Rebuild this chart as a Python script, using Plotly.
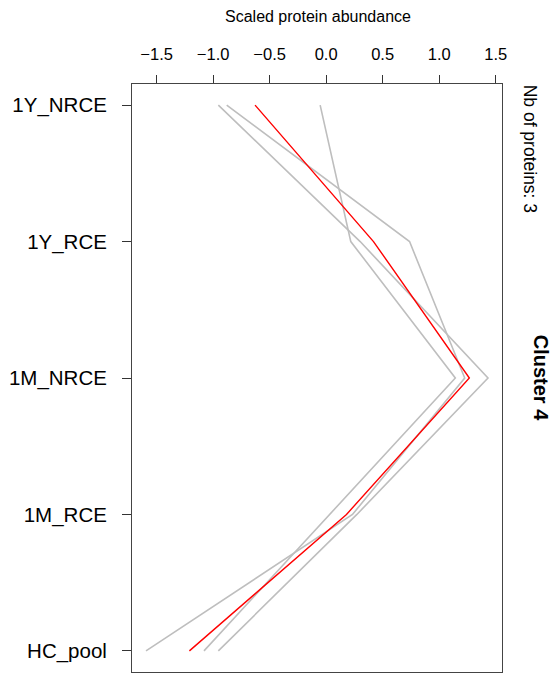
import plotly.graph_objects as go

# Data
conditions = ["1Y_NRCE", "1Y_RCE", "1M_NRCE", "1M_RCE", "HC_pool"]
protein_a = [-0.053, 0.218, 1.143, 0.035, -1.081]
protein_b = [-0.880, 0.738, 1.226, 0.233, -1.594]
protein_c = [-0.954, 0.301, 1.432, 0.272, -0.954]
cluster_mean = [-0.629, 0.419, 1.267, 0.180, -1.210]
x_ticks = [-1.5, -1.0, -0.5, 0.0, 0.5, 1.0, 1.5]
category_order = ["HC_pool", "1M_RCE", "1M_NRCE", "1Y_RCE", "1Y_NRCE"]

# body margin is removed with a small post-script so the figure fills the page
PAGE_W, PAGE_H = 552, 678
W, H = PAGE_W, PAGE_H
L, T = 132, 84
R = PAGE_W - 501.7
B = PAGE_H - 672

fig = go.Figure()
for vals in [protein_a, protein_b, protein_c]:
    fig.add_trace(go.Scatter(x=vals, y=conditions, mode="lines",
                             line=dict(color="#BEBEBE", width=1.6),
                             showlegend=False, hoverinfo="skip"))
fig.add_trace(go.Scatter(x=cluster_mean, y=conditions, mode="lines",
                         line=dict(color="#FF0000", width=1.4),
                         showlegend=False, hoverinfo="skip"))

font_family = "Liberation Sans, Arial, sans-serif"

fig.update_layout(
    width=W, height=H,
    margin=dict(l=L, r=R, t=T, b=B, pad=0),
    paper_bgcolor="white", plot_bgcolor="white",
    font=dict(family=font_family, color="black"),
    xaxis=dict(
        side="top", range=[-1.718, 1.556], tickvals=x_ticks,
        tickformat=".1f", ticks="outside", ticklen=8, tickwidth=1,
        tickcolor="#333", showgrid=False, zeroline=False,
        showline=True, linecolor="#444", linewidth=1, mirror=True,
        tickfont=dict(size=16.5, family=font_family, color="black"),
        ticklabelstandoff=8,
    ),
    yaxis=dict(
        type="category", categoryorder="array", categoryarray=category_order,
        range=[-0.155, 4.155], ticks="outside", ticklen=9, tickwidth=1,
        tickcolor="#333", showgrid=False, zeroline=False,
        showline=True, linecolor="#444", linewidth=1, mirror=True,
        tickfont=dict(size=20.5, family=font_family, color="black"),
        ticklabelstandoff=11,
    ),
)

pw = W - L - R
ph = H - T - B

def px_to_paper(xp, yp):
    return (xp - L) / pw, (H - B - yp) / ph

ax, ay = px_to_paper(318, 17)
fig.add_annotation(text="Scaled protein abundance", x=ax, y=ay, xref="paper", yref="paper",
                   xanchor="center", yanchor="middle", showarrow=False,
                   font=dict(size=16, family=font_family, color="black"))

nx, ny = px_to_paper(530, 149)
fig.add_annotation(text="Nb of proteins: 3", x=nx, y=ny, xref="paper", yref="paper",
                   xanchor="center", yanchor="middle", showarrow=False, textangle=90,
                   font=dict(size=17.5, family=font_family, color="black"))

cx, cy = px_to_paper(541, 378)
fig.add_annotation(text="<b>Cluster 4</b>", x=cx, y=cy, xref="paper", yref="paper",
                   xanchor="center", yanchor="middle", showarrow=False, textangle=90,
                   font=dict(size=20, family=font_family, color="black"))

fig.write_html("out.html",
               config={"displayModeBar": False},
               post_script="document.body.style.margin='0px';document.body.style.overflow='hidden';")
